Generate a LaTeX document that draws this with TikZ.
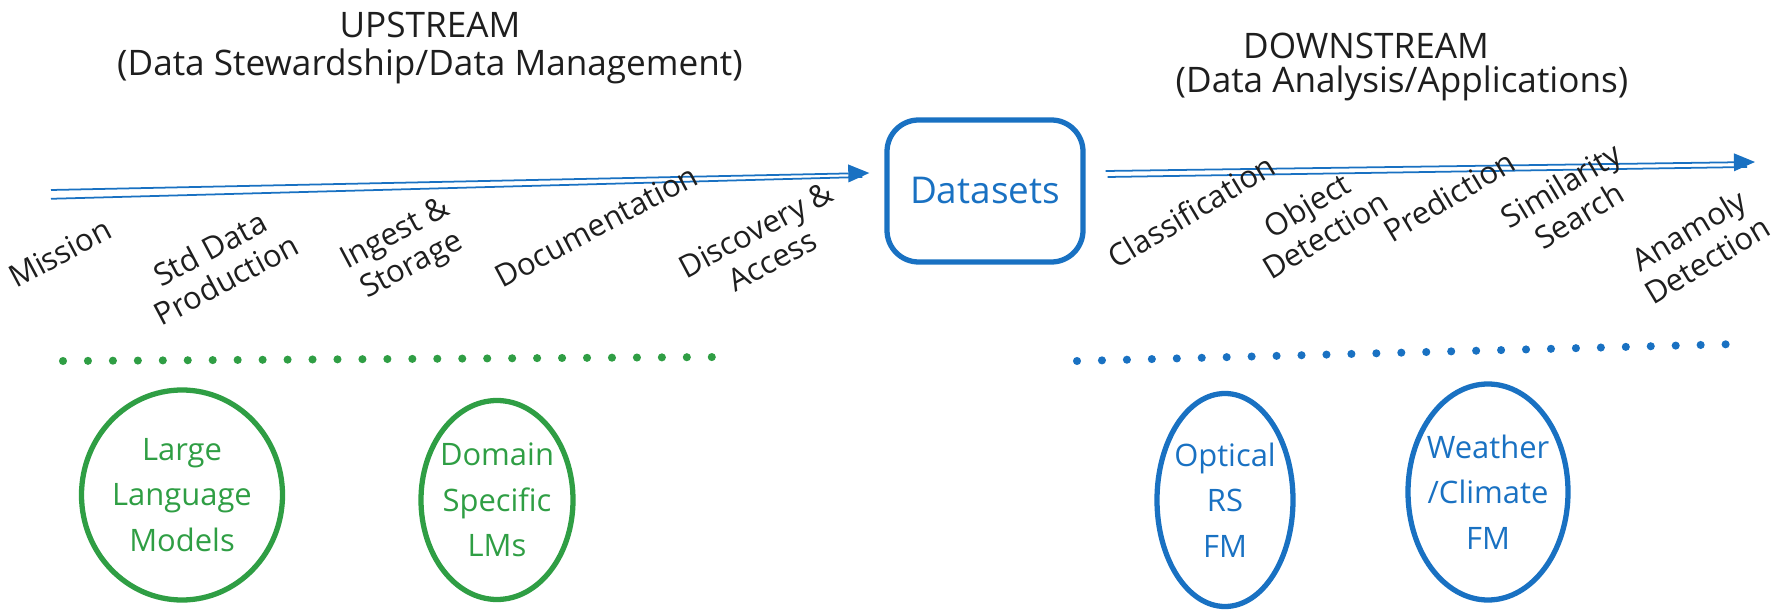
\documentclass[tikz,border=0pt]{standalone}
\usepackage{fontspec}
\setmainfont{Open Sans}
\usetikzlibrary{arrows.meta,shapes.geometric}
\definecolor{skyblue}{HTML}{1971C2}
\definecolor{leafgreen}{HTML}{2F9E44}
\definecolor{inkblack}{HTML}{1E1E1E}
\begin{document}
\begin{tikzpicture}[
        title/.style={text=inkblack, font=\fontsize{10}{13}\selectfont, align=center},
        stage/.style={text=inkblack, font=\fontsize{8.8}{10}\selectfont, align=center, rotate=28, inner sep=1pt},
        flow/.style={skyblue, line width=0.5pt},
        bubble/.style={ellipse, draw, line width=1.5pt, align=center, inner sep=-2pt,
            font=\fontsize{8.8}{13}\selectfont},
        dots/.style={line width=2.3pt, line cap=round, dash pattern=on 0pt off 7.1pt}
    ]
    \useasboundingbox (0,0) rectangle (17.87,6.09);

    \node[title] (up) at (4.30, 5.84){UPSTREAM};
        \node[title] (upsub) at (4.30, 5.43){(Data Stewardship/Data Management)};
    \node[title] (down) at (13.66, 5.63){DOWNSTREAM};
        \node[title] (downsub) at (14.02, 5.26){(Data Analysis/Applications)};

    \node[draw=skyblue, line width=1.5pt, rounded corners=9pt, minimum width=1.96cm,
        minimum height=1.42cm, text=skyblue, font=\fontsize{10.5}{12}\selectfont]
        (dset) at (9.85, 4.18){Datasets};

    \coordinate (upstart) at (0.51, 4.19);
    \coordinate (downend) at (17.55, 4.47);
    \draw[flow, -{Triangle[length=6pt, width=5pt]}] (upstart) -- ([shift={(-0.15, 0.18)}]dset.west);
    \draw[flow] ([yshift=-2.5pt]upstart) -- ([shift={(-0.22, 0.14)}]dset.west);
    \draw[flow, -{Triangle[length=6pt, width=5pt]}] ([shift={(0.2, 0.2)}]dset.east) -- (downend);
    \draw[flow] ([shift={(0.22, 0.14)}]dset.east) -- ([shift={(-0.08, -0.05)}]downend);

    \node[stage] (mission) at (0.60, 3.56){Mission};
    \node[stage] (stddata) at (2.18, 3.45){Std Data\\Production};
    \node[stage] (ingest) at (4.04, 3.58){Ingest \&\\Storage};
    \node[stage] (docs) at (5.96, 3.83){Documentation};
    \node[stage] (discover) at (7.64, 3.64){Discovery \&\\Access};

    \node[stage, rotate=3] (classify) at (11.91, 3.98){Classification};
    \node[stage, rotate=3] (objdet) at (13.16, 3.89){Object\\Detection};
    \node[stage, rotate=3] (predict) at (14.49, 4.13){Prediction};
    \node[stage, rotate=3] (simsearch) at (15.70, 4.09){Similarity\\Search};
    \node[stage, rotate=3] (anomaly) at (16.98, 3.64){Anamoly\\Detection};

    \coordinate (gleft) at (0.63, 2.48);
    \coordinate (gright) at (7.24, 2.52);
    \draw[dots, leafgreen] (gleft) -- (gright);
    \coordinate (bleft) at (10.77, 2.48);
    \coordinate (bright) at (17.38, 2.65);
    \draw[dots, skyblue] (bleft) -- (bright);

    \node[bubble, leafgreen, minimum width=2.01cm, minimum height=2.10cm] (llm) at (1.82, 1.14){Large\\Language\\Models};
    \node[bubble, leafgreen, minimum width=1.52cm, minimum height=1.99cm] (domain) at (4.97, 1.09){Domain\\Specific\\LMs};
    \node[bubble, skyblue, minimum width=1.36cm, minimum height=2.13cm] (optical) at (12.25, 1.09){Optical\\RS\\FM};
    \node[bubble, skyblue, minimum width=1.60cm, minimum height=2.16cm] (weather) at (14.88, 1.17){Weather\\/Climate\\FM};
\end{tikzpicture}
\end{document}
